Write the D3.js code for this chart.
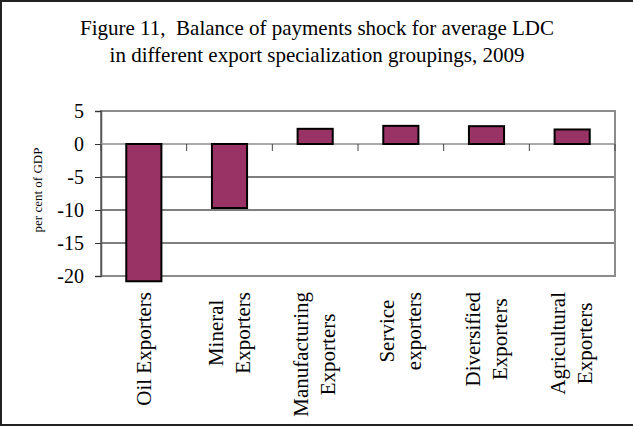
<!DOCTYPE html>
<html>
<head>
<meta charset="utf-8">
<script src="https://cdn.jsdelivr.net/npm/d3@7"></script>
<style>
  body { margin: 0; background: #fff; }
  svg { display: block; }
  text { font-family: "Liberation Serif", "Times New Roman", serif; fill: #000; white-space: pre; }
</style>
</head>
<body>
<svg id="chart" width="633" height="430"></svg>
<script>
// Chart data
const titleLines = ["Figure 11,  Balance of payments shock for average LDC",
                    "in different export specialization groupings, 2009"];
const categories = [
    ["Oil Exporters"],
    ["Mineral", "Exporters"],
    ["Manufacturing", "Exporters"],
    ["Service", "exporters"],
    ["Diversified", "Exporters"],
    ["Agricultural", "Exporters"]
];
const values = [-20.8, -9.7, 2.3, 2.75, 2.7, 2.2];
const yTicks = [5, 0, -5, -10, -15, -20];
const yLabel = "per cent of GDP";

function drawChart() {
    const svg = d3.select("#chart");
    svg.selectAll("*").remove();

    const margin = { top: 111, right: 18, bottom: 154, left: 101 };
    const width = 633 - margin.left - margin.right;
    const height = 430 - margin.top - margin.bottom;

    // outer frame (runs off the right edge like the original)
    svg.append("rect")
       .attr("x", 1).attr("y", 1)
       .attr("width", 660).attr("height", 424)
       .attr("fill", "none")
       .attr("stroke", "#222")
       .attr("stroke-width", 2);

    // title
    svg.append("g").selectAll("text")
       .data(titleLines)
       .enter().append("text")
       .attr("x", 317)
       .attr("y", (d, i) => 34.5 + i * 27)
       .attr("text-anchor", "middle")
       .style("font-size", "21px")
       .text(d => d);

    const x = d3.scaleBand()
                .domain(d3.range(categories.length))
                .range([0, width])
                .paddingInner(0.59)
                .paddingOuter(0.295);

    const y = d3.scaleLinear()
                .domain([-20, 5])
                .range([height, 0]);

    const g = svg.append("g")
                 .attr("transform", `translate(${margin.left},${margin.top})`);

    // gridlines (black, below zero only, like Excel)
    g.selectAll(".grid")
     .data(yTicks.filter(t => t < 0 && t > -20))
     .enter().append("line")
     .attr("x1", 0).attr("x2", width)
     .attr("y1", d => y(d)).attr("y2", d => y(d))
     .attr("stroke", "#000")
     .attr("stroke-width", 1);

    // plot border
    g.append("rect")
     .attr("width", width).attr("height", height)
     .attr("fill", "none")
     .attr("stroke", "#8c8c8c")
     .attr("stroke-width", 2);

    // Y axis
    const yAxis = g.append("g")
                   .call(d3.axisLeft(y).tickValues(yTicks).tickSize(6).tickPadding(11).tickFormat(d3.format("d")));
    yAxis.select(".domain").attr("stroke", "#555").attr("stroke-width", 1.5);
    yAxis.selectAll(".tick line").attr("stroke", "#333");
    yAxis.selectAll(".tick text")
         .style("font-size", "20px")
         .style("font-family", "'Liberation Serif', serif")
         .text(d => d < 0 ? "-" + Math.abs(d) : d);

    // zero line with ticks between categories
    g.append("line")
     .attr("x1", 0).attr("x2", width)
     .attr("y1", y(0)).attr("y2", y(0))
     .attr("stroke", "#8c8c8c")
     .attr("stroke-width", 1.5);
    g.selectAll(".xtick")
     .data(d3.range(categories.length + 1))
     .enter().append("line")
     .attr("x1", d => d * x.step()).attr("x2", d => d * x.step())
     .attr("y1", y(0)).attr("y2", y(0) + 7)
     .attr("stroke", "#444")
     .attr("stroke-width", 1);

    // Bars
    g.selectAll(".bar")
     .data(values)
     .enter().append("rect")
     .attr("class", "bar")
     .attr("x", (d, i) => x(i))
     .attr("y", d => y(Math.max(0, d)))
     .attr("width", x.bandwidth())
     .attr("height", d => Math.abs(y(d) - y(0)))
     .attr("fill", "#993366")
     .attr("stroke", "#000")
     .attr("stroke-width", 2);

    // y title
    svg.append("text")
       .attr("transform", "translate(42,190) rotate(-90)")
       .attr("text-anchor", "middle")
       .style("font-size", "13px")
       .text(yLabel);

    // category labels, rotated, each block centred on its band
    const labelTop = margin.top + height + 16;
    const lineH = 27;
    categories.forEach((lines, i) => {
        const cx = margin.left + x(i) + x.bandwidth() / 2;
        const lg = svg.append("g");
        const texts = lg.selectAll("text")
                        .data(lines)
                        .enter().append("text")
                        .attr("text-anchor", "middle")
                        .attr("x", 0)
                        .attr("y", (d, j) => (j - (lines.length - 1) / 2) * lineH)
                        .attr("dy", "0.32em")
                        .style("font-size", "21px")
                        .text(d => d);
        const maxLen = d3.max(texts.nodes(), n => n.getComputedTextLength());
        lg.attr("transform", `translate(${cx},${labelTop + maxLen / 2}) rotate(-90)`);
    });
}

drawChart();
</script>
</body>
</html>
